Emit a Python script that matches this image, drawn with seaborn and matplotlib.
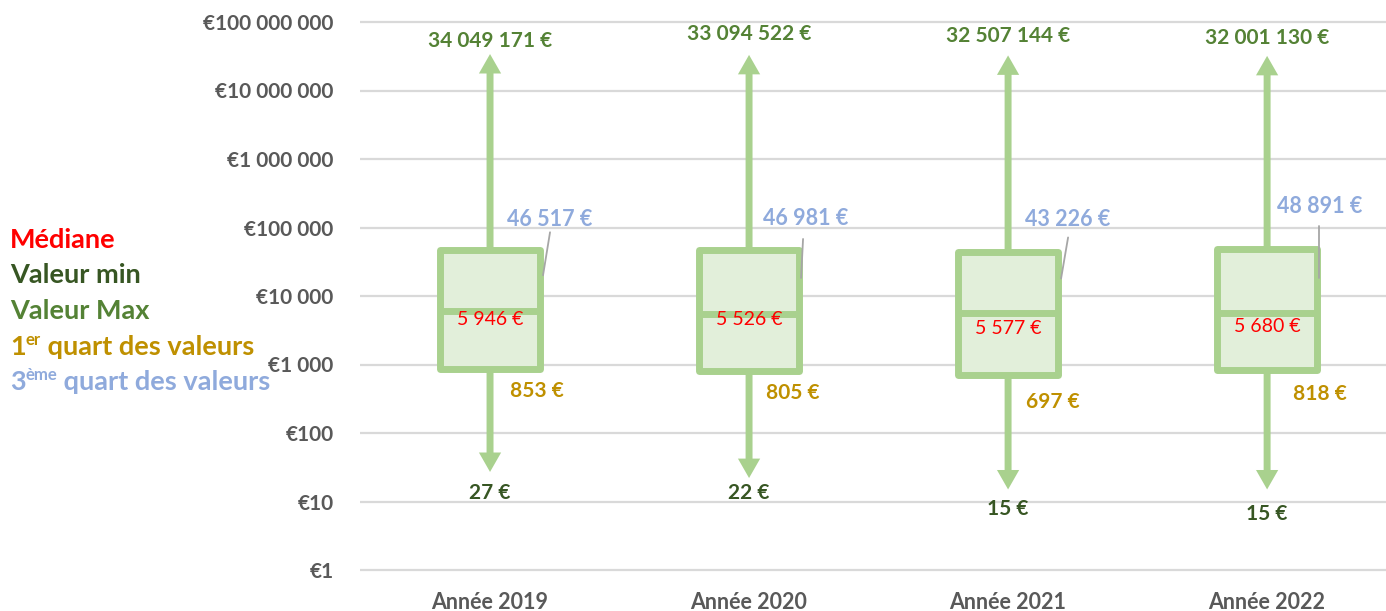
import numpy as np
import pandas as pd
import matplotlib
matplotlib.use("Agg")
import matplotlib.pyplot as plt
import seaborn as sns
from matplotlib.ticker import NullLocator
from matplotlib.lines import Line2D

# ---------------- data ----------------
years = ["Année 2019", "Année 2020", "Année 2021", "Année 2022"]
val_max = [34049171, 33094522, 32507144, 32001130]
val_q3 = [46517, 46981, 43226, 48891]
val_med = [5946, 5526, 5577, 5680]
val_q1 = [853, 805, 697, 818]
val_min = [27, 22, 15, 15]

ytick_vals = [1, 10, 100, 1000, 10000, 100000, 1000000, 10000000, 100000000]
ytick_labels = ["€1", "€10", "€100", "€1 000", "€10 000", "€100 000",
                "€1 000 000", "€10 000 000", "€100 000 000"]

def fr(v):
    return f"{v:,}".replace(",", " ") + " €"

# ---------------- style ----------------
C_EDGE = "#a9d18e"
C_FILL = "#e2efda"
C_MED = "#ff0000"
C_MIN = "#375623"
C_MAX = "#548235"
C_Q1 = "#bf9000"
C_Q3 = "#8faadc"
C_TICK = "#595959"
C_GRID = "#d9d9d9"

sns.set_theme(style="white")
plt.rcParams["font.family"] = ["Lato", "DejaVu Sans"]

W, H = 1386, 611
fig = plt.figure(figsize=(W / 100, H / 100), dpi=100)

ppd = 68.5          # pixels per decade
pad = 0.06
y_top_px = 22 - pad * ppd
y_bot_px = 570 + pad * ppd
ax = fig.add_axes([360 / W, 1 - y_bot_px / H, (W - 360) / W, (y_bot_px - y_top_px) / H])

rows = []
for y, q1, m, q3 in zip(years, val_q1, val_med, val_q3):
    for v in (q1, q1, m, q3, q3):
        rows.append({"year": y, "value": v})
df = pd.DataFrame(rows)

sns.boxplot(data=df, x="year", y="value", order=years, whis=0, showcaps=False,
            showfliers=False, width=0.385, color=C_FILL, linecolor=C_EDGE,
            linewidth=5, saturation=1, log_scale=True, ax=ax, zorder=3)
for p in ax.patches:
    p.set_joinstyle("round")

ax.set_ylim(10 ** (-pad), 10 ** (8 + pad))
ax.set_xlim(-0.502, 3.459)

# arrows
for i in range(len(years)):
    for start, end in ((val_q3[i], val_max[i]), (val_q1[i], val_min[i])):
        ax.annotate("", xy=(i, end), xytext=(i, start),
                    arrowprops=dict(arrowstyle="simple,head_length=1.4,head_width=1.6,tail_width=0.5",
                                    mutation_scale=10, fc=C_EDGE, ec="none",
                                    shrinkA=0, shrinkB=0), zorder=2)

# axes cosmetics
ax.set_yticks(ytick_vals)
ax.set_yticklabels(ytick_labels)
ax.yaxis.set_minor_locator(NullLocator())
ax.yaxis.grid(True, color=C_GRID, lw=1.6)
ax.xaxis.grid(False)
ax.set_axisbelow(True)
for s in ax.spines.values():
    s.set_visible(False)
ax.set_xlabel("")
ax.set_ylabel("")
ax.tick_params(axis="y", length=0, pad=19, labelsize=15, labelcolor=C_TICK)
ax.tick_params(axis="x", length=0, pad=13, labelsize=15.5, labelcolor=C_TICK)
for t in ax.get_yticklabels() + ax.get_xticklabels():
    t.set_fontweight("bold")

# value labels (offsets in pixels)
max_off = [13, 21, 19, 18]
min_off = [21, 15, 20, 25]
med_off = [8, 6, 15, 14]
q1_off = [(47, 22), (44, 22), (45, 27), (53, 24)]
q3_off = [(60, 31), (57, 31), (60, 33), (53, 42)]
lead_from = [(60, 18), (54, 11), (60, 15), (52, 23)]
lead_to = [(53, -25), (52, -28), (53, -26), (52, -29)]

LBL = 15
for i in range(len(years)):
    ax.annotate(fr(val_max[i]), xy=(i, val_max[i]), xytext=(0, max_off[i]),
                textcoords="offset pixels", ha="center", va="center",
                color=C_MAX, fontsize=LBL, fontweight="bold", zorder=5)
    ax.annotate(fr(val_min[i]), xy=(i, val_min[i]), xytext=(0, -min_off[i]),
                textcoords="offset pixels", ha="center", va="center",
                color=C_MIN, fontsize=LBL, fontweight="bold", zorder=5)
    ax.annotate(fr(val_med[i]), xy=(i, val_med[i]), xytext=(0, -med_off[i]),
                textcoords="offset pixels", ha="center", va="center",
                color=C_MED, fontsize=14, zorder=5)
    ax.annotate(fr(val_q1[i]), xy=(i, val_q1[i]), xytext=(q1_off[i][0], -q1_off[i][1]),
                textcoords="offset pixels", ha="center", va="center",
                color=C_Q1, fontsize=LBL, fontweight="bold", zorder=5)
    ax.annotate(fr(val_q3[i]), xy=(i, val_q3[i]), xytext=(q3_off[i][0], q3_off[i][1]),
                textcoords="offset pixels", ha="center", va="center",
                color=C_Q3, fontsize=15.5, fontweight="bold", zorder=5)
    # leader line
    p0 = ax.transData.transform((i, val_q3[i]))
    x0, y0 = p0[0] + lead_from[i][0], p0[1] + lead_from[i][1]
    x1, y1 = p0[0] + lead_to[i][0], p0[1] + lead_to[i][1]
    fig.add_artist(Line2D([x0, x1], [y0, y1], transform=None, color="#a6a6a6", lw=1.3, zorder=6))

# legend block on the left
fig.canvas.draw()
r = fig.canvas.get_renderer()
LS = 19.5

def ftext(xp, yp, s, color, size=LS):
    return fig.text(xp / W, 1 - yp / H, s, color=color, fontsize=size,
                    fontweight="bold", va="baseline", ha="left")

def sup_line(xp, yp, base, sup, rest, color):
    t1 = ftext(xp, yp, base, color)
    bb = t1.get_window_extent(r)
    t2 = fig.text(bb.x1 / W, (H - yp + 10) / H, sup, color=color, fontsize=LS * 0.62,
                  fontweight="bold", va="baseline", ha="left")
    bb2 = t2.get_window_extent(r)
    fig.text(bb2.x1 / W, 1 - yp / H, rest, color=color, fontsize=LS,
             fontweight="bold", va="baseline", ha="left")

ftext(10, 248, "Médiane", C_MED)
ftext(10, 283, "Valeur min", C_MIN)
ftext(10, 319, "Valeur Max", C_MAX)
sup_line(10, 355, "1", "er", " quart des valeurs", C_Q1)
sup_line(10, 390, "3", "ème", " quart des valeurs", C_Q3)

fig.savefig("out.png", dpi=100)
